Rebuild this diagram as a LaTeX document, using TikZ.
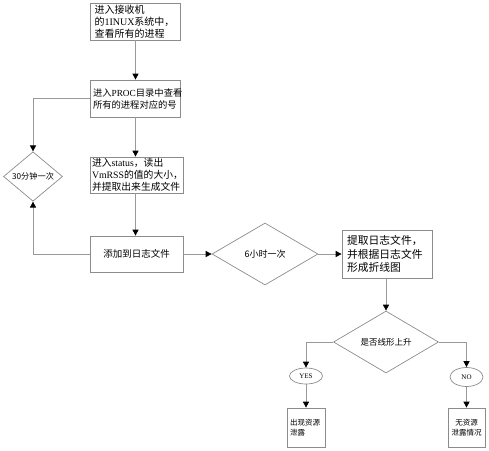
\documentclass[tikz,border=0pt]{standalone}
\usepackage{fontspec}
\setmainfont{Noto Sans CJK SC}
\newfontfamily\lat{Liberation Serif}
\usetikzlibrary{arrows.meta,shapes.geometric}
\definecolor{lc}{gray}{0.6}
\definecolor{bc}{gray}{0.55}
\begin{document}
\begin{tikzpicture}[x=1pt,y=-1pt,
  line/.style={draw=lc, line width=0.7pt},
  arr/.style={line, -{Triangle[length=6pt,width=6pt,color=black,fill=black]}},
  box/.style={draw=bc, line width=0.7pt, inner ysep=0pt, align=left},
  dia/.style={draw=bc, line width=0.7pt, diamond, aspect=1, inner sep=0pt},
  oval/.style={draw=bc, line width=0.7pt, ellipse, inner sep=0pt, font=\lat\fontsize{7}{8}\selectfont}
]
\useasboundingbox (0,0) rectangle (489,450);

\node[box, text width=82pt, inner xsep=4pt, minimum height=37pt, font=\fontsize{10}{12}\selectfont]
  (b1) at (135.5,21.5) {进入接收机\\的{\lat 1INUX}系统中，\\查看所有的进程};
\node[box, text width=85pt, inner xsep=2.5pt, minimum height=37pt, font=\fontsize{9.3}{12}\selectfont]
  (b2) at (135.5,98.5) {进入{\lat PROC}目录中查看\\所有的进程对应的号};
\node[box, text width=89pt, inner xsep=2pt, minimum height=36pt, font=\fontsize{9.8}{11.7}\selectfont]
  (b3) at (136.5,175) {进入{\lat status}，读出\\{\lat VmRSS}的值的大小，\\并提取出来生成文件};
\node[box, text width=89pt, inner xsep=2pt, minimum height=36pt, align=center, font=\fontsize{9.5}{12}\selectfont]
  (b4) at (136.5,254) {添加到日志文件};
\node[dia, minimum width=59pt, minimum height=37pt, font=\fontsize{8.2}{10}\selectfont]
  (d30) at (33,176.5) {30分钟一次};
\node[dia, minimum width=106pt, minimum height=62pt, font=\fontsize{9}{11}\selectfont]
  (d6) at (265,254) {6小时一次};
\node[box, text width=80pt, inner xsep=5pt, minimum height=48pt, font=\fontsize{10.8}{13.5}\selectfont]
  (b5) at (387,254) {提取日志文件，\\并根据日志文件\\形成折线图};
\node[dia, minimum width=105pt, minimum height=62pt, font=\fontsize{8.5}{10}\selectfont]
  (d2) at (386,342) {是否线形上升};
\node[oval, minimum width=33pt, minimum height=16pt] (yes) at (306,376) {YES};
\node[oval, minimum width=33pt, minimum height=19pt] (no) at (466.5,377) {NO};
\node[box, text width=32pt, inner xsep=3pt, minimum height=39pt, font=\fontsize{7.5}{10}\selectfont]
  (by) at (306,427.5) {出现资源\\泄露};
\node[box, text width=31pt, inner xsep=3pt, minimum height=39pt, align=center, font=\fontsize{7.5}{10}\selectfont]
  (bn) at (466.5,427.5) {无资源\\泄露情况};

\draw[arr] (b1.south) -- (b1.south |- b2.north);
\draw[arr] (b2.south) -- (b2.south |- b3.north);
\draw[arr] (b2.south |- b3.south) -- (b2.south |- b4.north);
\draw[arr] (b2.west) -| (d30.north);
\draw[arr] (b4.west) -| (d30.south);
\draw[arr] (b4.east) -- (d6.west);
\draw[arr] (d6.east) -- (b5.west);
\draw[arr] (b5.south -| d2.north) -- (d2.north);
\draw[arr] (d2.west) -| (yes.north);
\draw[arr] (d2.east) -| (no.north);
\draw[arr] (yes.south) -- (by.north);
\draw[arr] (no.south) -- (bn.north);
\end{tikzpicture}
\end{document}
